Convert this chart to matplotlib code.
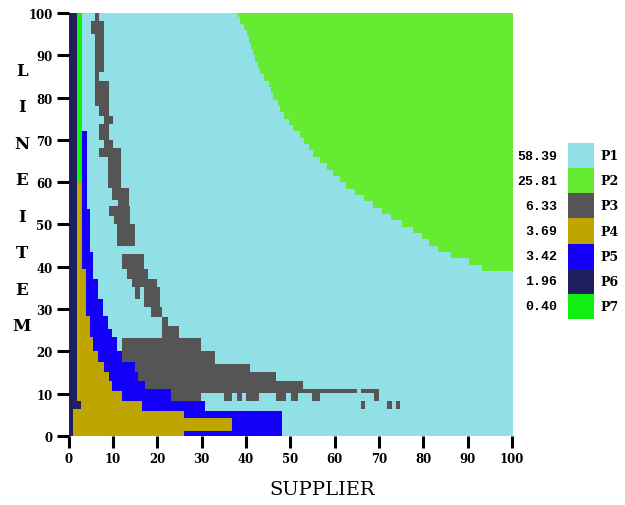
import numpy as np
import matplotlib
matplotlib.use("Agg")
import matplotlib.pyplot as plt
from matplotlib.colors import ListedColormap

PLANS = ["P1", "P2", "P3", "P4", "P5", "P6", "P7"]
SHARES = [58.39, 25.81, 6.33, 3.69, 3.42, 1.96, 0.40]
COLORS = ["#91E0E6", "#64EB32", "#555555", "#BFA500", "#1400FA", "#20205E", "#12F012"]
X_TICKS = list(range(0, 101, 10))
Y_TICKS = list(range(0, 101, 10))

# P2 staircase: lower lineitem edge of each row and the supplier value where P2 starts
P2_ROW_LO = [39, 40.5, 42, 43.5, 45, 46.5, 48, 49.5, 51, 52.5, 54, 55.5, 57, 58.5,
             60, 61.5, 63, 64.5, 66, 67.5, 69, 70.5, 72, 73.5, 75, 76.5, 78, 79.5,
             81, 82.5, 84, 85.5, 87, 88.5, 90, 91.5, 93, 94.5, 96, 97.5, 99]
P2_ROW_START = [93, 90, 86, 83, 81, 79.5, 77.5, 75, 72.5, 70.5, 68.5, 66.5, 64.5, 62.5,
                61, 59.5, 58, 56.5, 55, 54, 53, 52, 50.5, 49.5, 48.5, 47.5, 47, 46,
                45.5, 45, 44, 43, 42.5, 42, 41.5, 41, 40.5, 40, 39.5, 38.5, 38]

# regions as (lineitem lo, lineitem hi, supplier lo, supplier hi)
P3_RECTS = [
    (98.2, 100, 5.9, 6.8), (95.0, 98.2, 4.9, 7.8), (86.0, 95.0, 5.9, 7.8),
    (84.0, 86.0, 5.9, 6.8), (78.1, 84.0, 5.9, 8.9), (75.7, 78.1, 6.8, 8.9),
    (73.8, 75.7, 7.8, 9.8), (69.9, 73.8, 6.8, 8.9), (68.0, 69.9, 7.8, 9.8),
    (66.0, 68.0, 6.8, 11.7), (58.6, 66.0, 8.8, 11.7), (55.8, 58.6, 9.7, 13.5),
    (54.4, 55.8, 11.1, 13.5), (52.0, 54.4, 8.9, 13.8), (50.1, 52.0, 10.1, 13.8),
    (45.0, 50.1, 10.8, 14.9), (39.5, 43.0, 11.9, 16.8), (37.1, 39.5, 13.0, 17.9),
    (35.2, 37.1, 14.1, 19.8), (32.4, 35.2, 14.9, 15.9), (30.5, 35.2, 16.8, 20.6),
    (28.1, 30.5, 18.4, 20.9), (26.1, 28.1, 20.9, 22.4), (23.1, 26.1, 20.9, 24.7),
    (20.2, 23.1, 11.9, 29.8), (17.0, 20.2, 11.9, 32.8), (15.1, 17.0, 11.9, 40.7),
    (13.1, 15.1, 11.9, 46.7), (11.1, 13.1, 11.9, 52.7), (10.2, 11.1, 11.9, 64.8),
    (10.2, 11.1, 65.7, 69.8), (8.3, 10.2, 68.8, 69.8), (8.3, 10.2, 11.9, 29.8),
    (8.3, 10.2, 34.9, 36.8), (8.3, 10.2, 37.9, 38.9), (8.3, 10.2, 39.8, 42.7),
    (8.3, 10.2, 46.7, 48.8), (8.3, 10.2, 49.9, 51.6), (8.3, 10.2, 54.8, 56.6),
    (6.3, 8.3, 65.7, 66.6), (6.3, 8.3, 71.6, 72.8), (6.3, 8.3, 73.7, 74.6),
]
P5_RECTS = [
    (0, 6.0, 0, 47.9), (6.0, 8.3, 0, 30.7), (8.3, 11.1, 0, 22.9),
    (11.1, 13.1, 0, 17.2), (13.1, 15.1, 0, 15.6), (15.1, 17.4, 0, 14.9),
    (17.4, 20.2, 0, 11.9), (20.2, 23.3, 0, 10.8), (23.3, 25.3, 0, 9.65),
    (25.3, 28.4, 0, 8.8), (28.4, 32.4, 0, 7.7), (32.4, 37.1, 0, 6.6),
    (37.1, 43.4, 0, 5.5), (43.4, 53.7, 0, 4.7), (53.7, 72.0, 0, 4.0),
]
P4_RECTS = [
    (0, 1.3, 0, 25.9), (1.3, 4.2, 0, 36.8), (4.2, 6.0, 0, 25.9),
    (6.0, 8.3, 0, 16.4), (8.3, 10.7, 0, 11.9), (10.7, 13.1, 0, 9.65),
    (13.1, 15.1, 0, 8.9), (15.1, 17.4, 0, 7.8), (17.4, 20.2, 0, 6.6),
    (20.2, 23.3, 0, 5.5), (23.3, 28.4, 0, 4.8), (28.4, 39.5, 0, 3.9),
    (39.5, 60.0, 0, 2.9),
]
P6_RECTS = [(0, 6.4, 0, 0.9), (6.4, 8.3, 0, 2.7), (8.3, 100, 0, 1.7)]
P7_RECTS = [(60, 100, 1.7, 2.9)]

RES = 0.1
N = int(round(100 / RES))
grid = np.zeros((N, N), dtype=int)  # P1 everywhere


def paint(code, rects):
    for y0, y1, x0, x1 in rects:
        grid[int(round(y0 / RES)):int(round(y1 / RES)),
             int(round(x0 / RES)):int(round(x1 / RES))] = code


p2_hi = P2_ROW_LO[1:] + [100]
p2_rects = [(lo, hi, s, 100) for lo, hi, s in zip(P2_ROW_LO, p2_hi, P2_ROW_START)]

paint(2, P3_RECTS)
paint(4, P5_RECTS)
paint(3, P4_RECTS)
paint(5, P6_RECTS)
paint(6, P7_RECTS)
paint(1, p2_rects)

serif = "DejaVu Serif"
fig = plt.figure(figsize=(6.25, 5.06), dpi=100)
ax = fig.add_axes([0.1096, 0.1364, 0.7096, 0.8359])
ax.imshow(grid, origin="lower", extent=(0, 100, 0, 100), cmap=ListedColormap(COLORS),
          vmin=-0.5, vmax=6.5, interpolation="nearest", aspect="auto")
ax.set_xlim(0, 100)
ax.set_ylim(0, 100)
ax.set_xticks(X_TICKS)
ax.set_yticks(Y_TICKS)
ax.tick_params(direction="out", length=8.5, width=2.2, labelsize=8.5, pad=3)
for lab in ax.get_xticklabels() + ax.get_yticklabels():
    lab.set_fontweight("bold")
    lab.set_family(serif)
for s in ax.spines.values():
    s.set_visible(False)

ax.set_xlabel("SUPPLIER", fontsize=14, family=serif, va="center")
ax.xaxis.set_label_coords(0.572, -0.125)
ax.set_ylabel("\n".join("LINEITEM"), rotation=0, fontsize=12, fontweight="bold",
              family=serif, linespacing=2.5, ha="center", va="center")
ax.yaxis.set_label_coords(-0.105, 0.563)

# legend swatches with plan shares
lax = fig.add_axes([568 / 625, 1 - 320 / 506, 26 / 625, 176 / 506])
ypos = np.arange(len(PLANS))
lax.barh(ypos, [1] * len(PLANS), height=1, left=0, color=COLORS)
lax.set_xlim(0, 1)
lax.set_ylim(len(PLANS) - 0.5, -0.5)
lax.axis("off")
for i, (p, v) in enumerate(zip(PLANS, SHARES)):
    lax.text(-0.42, i, f"{v:.2f}", ha="right", va="center", fontsize=9.5,
             fontweight="bold", family="Liberation Mono")
    lax.text(1.23, i, p, ha="left", va="center", fontsize=9,
             fontweight="bold", family=serif)

fig.savefig("out.png", dpi=100)
